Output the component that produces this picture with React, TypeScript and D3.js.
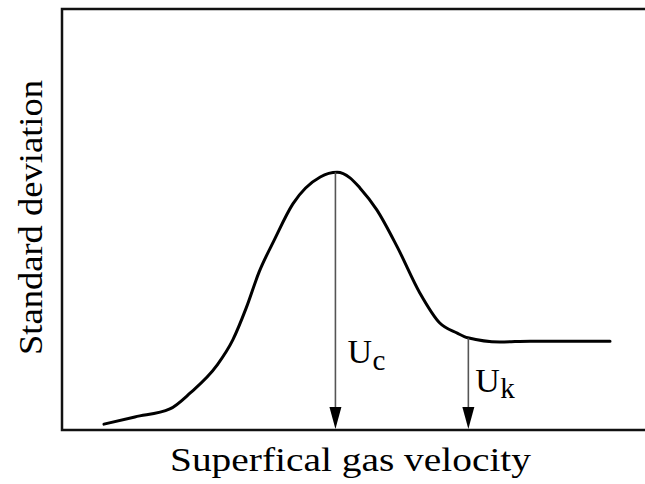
import React from "react";
import * as d3 from "d3";

const velocity = [0.72, 1.25, 1.85, 2.2, 2.66, 2.93, 3.16, 3.38, 3.64, 3.96, 4.43, 4.72, 4.94, 5.11, 5.4, 5.75, 6.14, 6.48, 6.78, 6.96, 7.51, 8.03, 9.4];
const stdDev = [0.14, 0.31, 0.5, 0.88, 1.54, 2.14, 2.9, 3.75, 4.51, 5.37, 6.01, 6.12, 5.99, 5.75, 5.23, 4.35, 3.25, 2.54, 2.3, 2.19, 2.09, 2.11, 2.11];
const markers = [
  { name: "U", sub: "c", x: 4.69, y: 6.12 },
  { name: "U", sub: "k", x: 6.97, y: 2.18 },
];
const xLabel = "Superfical gas velocity";
const yLabel = "Standard deviation";

const W = 645, H = 484;
const L = 62, R = 645, T = 9, B = 430;

export default function App() {
  const x = d3.scaleLinear().domain([0, 10]).range([L, R]);
  const y = d3.scaleLinear().domain([0, 10]).range([B, T]);
  const pts = velocity.map((v, i) => [x(v), y(stdDev[i])] as [number, number]);
  const line = d3.line().curve(d3.curveMonotoneX);
  const font = "'Liberation Serif', 'Times New Roman', Times, serif";
  const labelOff = [
    { dx: 12, ty: 363, sy: 370 },
    { dx: 7, ty: 392, sy: 398 },
  ];
  return (
    <svg width={W} height={H} style={{ position: "absolute", left: 0, top: 0, background: "#fff" }}>
      <rect x={0} y={0} width={W} height={H} fill="#fff" />
      <path d={line(pts) || ""} fill="none" stroke="#000" strokeWidth={3} strokeLinejoin="round" strokeLinecap="round" />
      {markers.map((m, i) => {
        const px = x(m.x);
        return (
          <g key={i}>
            <line x1={px} x2={px} y1={y(m.y)} y2={B - 20} stroke="#555" strokeWidth={1.6} />
            <path d={`M${px - 6},${B - 23} L${px + 6},${B - 23} L${px},${B - 1} Z`} fill="#000" />
            <text x={px + labelOff[i].dx} y={labelOff[i].ty} fontFamily={font} fontSize={34} fill="#000">
              {m.name}
            </text>
            <text x={px + labelOff[i].dx + 25} y={labelOff[i].sy} fontFamily={font} fontSize={29} fill="#000">
              {m.sub}
            </text>
          </g>
        );
      })}
      <path d={`M${R},${T} L${L},${T} L${L},${B} L${R},${B}`} fill="none" stroke="#111" strokeWidth={2.5} />
      <text x={170} y={471} fontFamily={font} fontSize={34} textLength={361} lengthAdjust="spacingAndGlyphs" fill="#000">
        {xLabel}
      </text>
      <text transform={`translate(42,355) rotate(-90)`} fontFamily={font} fontSize={34} textLength={275} lengthAdjust="spacingAndGlyphs" fill="#000">
        {yLabel}
      </text>
    </svg>
  );
}
